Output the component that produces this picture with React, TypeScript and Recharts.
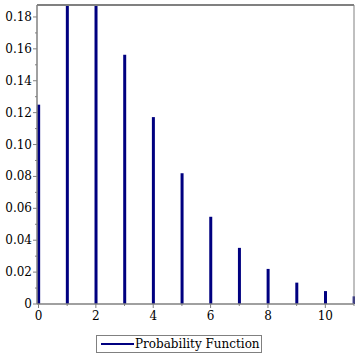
import React from "react";
import {
  ComposedChart,
  Bar,
  XAxis,
  YAxis,
  ReferenceLine,
} from "recharts";

// outcomes and their probabilities
const outcomes = [0, 1, 2, 3, 4, 5, 6, 7, 8, 9, 10, 11];
const probabilities = [
  0.125, 0.1875, 0.1875, 0.1563, 0.1172, 0.082, 0.0547, 0.0352, 0.022, 0.0134,
  0.0081, 0.0048,
];
const xTicks = [0, 1, 2, 3, 4, 5, 6, 7, 8, 9, 10, 11];
const yTicks = [
  0, 0.01, 0.02, 0.03, 0.04, 0.05, 0.06, 0.07, 0.08, 0.09, 0.1, 0.11, 0.12,
  0.13, 0.14, 0.15, 0.16, 0.17, 0.18,
];
const seriesName = "Probability Function";

const data = outcomes.map((x, i) => ({ x, p: probabilities[i] }));

const AXIS = "#808080";
const NAVY = "#000080";
const FONT = "DejaVu Serif, Liberation Serif, serif";

function YTick(props: any) {
  const { x, y, payload } = props;
  const v = payload.value as number;
  const major = Math.round(v * 100) % 2 === 0;
  return (
    <g>
      <line x1={x - (major ? 4 : 2)} x2={x} y1={y} y2={y} stroke={AXIS} strokeWidth={1} />
      {major && (
        <text x={x - 5} y={y + 4} textAnchor="end" fontSize={12} fontFamily={FONT} fill="#000">
          {v === 0 ? "0" : v.toFixed(2)}
        </text>
      )}
    </g>
  );
}

function XTick(props: any) {
  const { x, y, payload } = props;
  const v = payload.value as number;
  const major = v % 2 === 0;
  return (
    <g>
      <line x1={x} x2={x} y1={y} y2={y + (major ? 4 : 2)} stroke={AXIS} strokeWidth={1} />
      {major && (
        <text x={x} y={y + 16} textAnchor="middle" fontSize={12} fontFamily={FONT} fill="#000">
          {v}
        </text>
      )}
    </g>
  );
}

export default function App() {
  return (
    <div style={{ position: "absolute", left: 0, top: 0, width: 355, height: 355, background: "#fff" }}>
      <ComposedChart
        width={355}
        height={355}
        data={data}
        margin={{ top: 5, right: 1, left: 0, bottom: 21 }}
      >
        <XAxis
          dataKey="x"
          type="number"
          domain={[0, 11]}
          ticks={xTicks}
          interval={0}
          padding={{ left: 1.5, right: 0 }}
          height={30}
          tickSize={0}
          tickMargin={0}
          tickLine={false}
          axisLine={{ stroke: AXIS, strokeWidth: 1.5 }}
          tick={<XTick />}
        />
        <YAxis
          type="number"
          domain={[0, 0.1875]}
          ticks={yTicks}
          interval={0}
          allowDataOverflow
          width={37}
          tickSize={0}
          tickMargin={0}
          tickLine={false}
          axisLine={{ stroke: AXIS, strokeWidth: 1.5 }}
          tick={<YTick />}
        />
        <ReferenceLine y={0.1875} stroke={AXIS} strokeWidth={2} ifOverflow="visible" />
        <ReferenceLine x={11} stroke={AXIS} strokeWidth={1} ifOverflow="visible" />
        <Bar
          dataKey="p"
          name={seriesName}
          fill={NAVY}
          barSize={3}
          isAnimationActive={false}
        />
      </ComposedChart>
      <div
        style={{
          position: "absolute",
          left: 96,
          top: 335,
          width: 164,
          height: 16,
          border: `1px solid ${AXIS}`,
          display: "flex",
          alignItems: "center",
          fontFamily: FONT,
          fontSize: 12,
          color: "#000",
          whiteSpace: "nowrap",
        }}
      >
        <svg width={38} height={16}>
          <line x1={4} x2={37} y1={8} y2={8} stroke={NAVY} strokeWidth={2} />
        </svg>
        <span>{seriesName}</span>
      </div>
    </div>
  );
}
